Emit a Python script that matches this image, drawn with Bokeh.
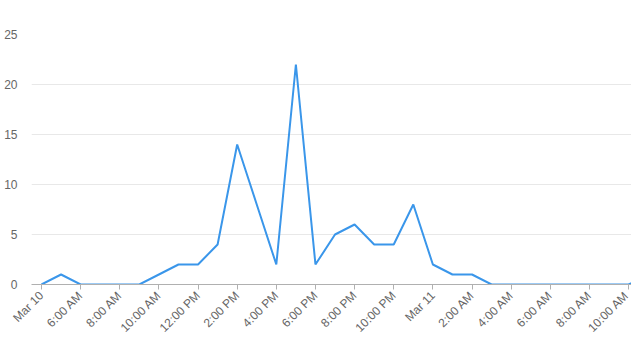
from bokeh.plotting import figure
from bokeh.embed import file_html
from bokeh.resources import INLINE
from bokeh.models import FixedTicker, Range1d
import math

# hour index (0 = first tick "Mar 10") and counts
hours = list(range(32))
counts = [0, 1, 0, 0, 0, 0, 1, 2, 2, 4, 14, 8, 2, 22, 2, 5, 6, 4, 4, 8,
          2, 1, 1, 0, 0, 0, 0, 0, 0, 0, 0, 1]
tick_positions = list(range(0, 31, 2))
tick_labels = ["Mar 10", "6:00 AM", "8:00 AM", "10:00 AM", "12:00 PM", "2:00 PM",
               "4:00 PM", "6:00 PM", "8:00 PM", "10:00 PM", "Mar 11", "2:00 AM",
               "4:00 AM", "6:00 AM", "8:00 AM", "10:00 AM"]
y_ticks = [0, 5, 10, 15, 20, 25]

p = figure(width=631, height=342, output_backend="svg", toolbar_location=None,
           x_range=Range1d(-0.51, 30.15), y_range=Range1d(0, 25),
           min_border_left=31, min_border_right=0, min_border_top=34,
           min_border_bottom=58)
p.outline_line_color = None
p.background_fill_color = "white"
p.border_fill_color = "white"

p.line(hours, counts, line_color="#3a96ea", line_width=2)

# x axis
p.xaxis.ticker = FixedTicker(ticks=tick_positions)
p.xaxis.major_label_overrides = {t: l for t, l in zip(tick_positions, tick_labels)}
p.xaxis.major_label_orientation = math.pi / 4
p.xaxis.axis_line_color = "#b0b0b0"
p.xaxis.major_tick_line_color = "#b0b0b0"
p.xaxis.major_tick_out = 5
p.xaxis.major_tick_in = 0
p.xaxis.minor_tick_line_color = None
p.xaxis.major_label_text_font = "Liberation Sans"
p.xaxis.major_label_text_font_size = "12px"
p.xaxis.major_label_text_color = "#666666"
p.xaxis.major_label_standoff = 4
p.xgrid.grid_line_color = None

# y axis
p.yaxis.ticker = FixedTicker(ticks=y_ticks)
p.yaxis.axis_line_color = None
p.yaxis.major_tick_line_color = None
p.yaxis.minor_tick_line_color = None
p.yaxis.major_label_text_font = "Liberation Sans"
p.yaxis.major_label_text_font_size = "12px"
p.yaxis.major_label_text_color = "#666666"
p.yaxis.major_label_standoff = 8
p.ygrid.grid_line_color = "#e8e8e8"
p.ygrid.grid_line_width = 1

open("out.html", "w").write(file_html(p, INLINE))
